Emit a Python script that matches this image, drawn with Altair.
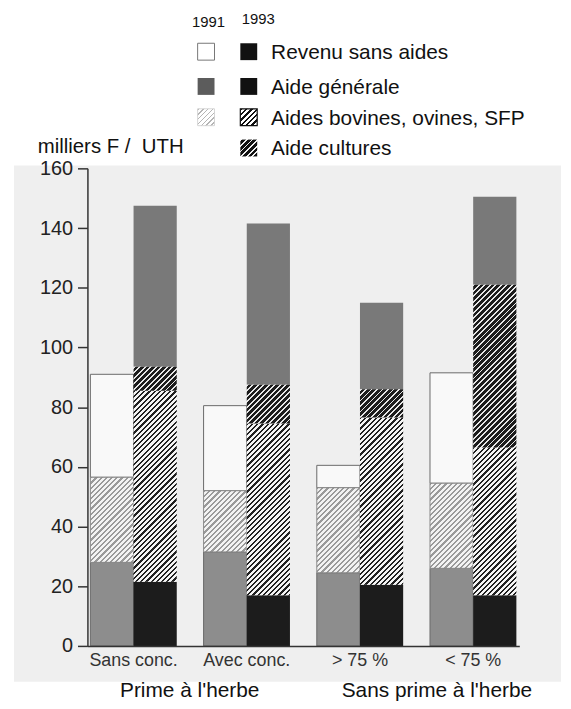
import math
import altair as alt
import pandas as pd

# ---------------- data (milliers F / UTH) ----------------
categories = ["Sans conc.", "Avec conc.", "> 75 %", "< 75 %"]
years = ["1991", "1993"]
components = ["Aide générale", "Aides bovines, ovines, SFP", "Aide cultures", "Revenu sans aides"]

aide_generale_1991 = [28.0, 31.5, 24.5, 26.0]
aides_bovines_1991 = [28.5, 20.5, 28.5, 28.5]
aide_cultures_1991 = [0.0, 0.0, 0.0, 0.0]
revenu_sans_aides_1991 = [34.5, 28.5, 7.5, 37.0]

aide_generale_1993 = [21.5, 17.0, 20.5, 17.0]
aides_bovines_1993 = [64.0, 57.5, 56.0, 49.5]
aide_cultures_1993 = [8.0, 13.0, 9.5, 54.5]
revenu_sans_aides_1993 = [54.0, 54.0, 29.0, 29.5]

group_labels = ["Prime à l'herbe", "Sans prime à l'herbe"]
y_ticks = [0, 20, 40, 60, 80, 100, 120, 140, 160]

# ---------------- layout ----------------
W, H = 435, 481
Y_MAX = 160
PAD_INNER, PAD_OUTER = 0.237, 0.026
FONT = "Liberation Sans"

series = {
    ("1991", components[0]): aide_generale_1991,
    ("1991", components[1]): aides_bovines_1991,
    ("1991", components[2]): aide_cultures_1991,
    ("1991", components[3]): revenu_sans_aides_1991,
    ("1993", components[0]): aide_generale_1993,
    ("1993", components[1]): aides_bovines_1993,
    ("1993", components[2]): aide_cultures_1993,
    ("1993", components[3]): revenu_sans_aides_1993,
}

rows = []
for ci, cat in enumerate(categories):
    for yr in years:
        base = 0.0
        for comp in components:
            v = series[(yr, comp)][ci]
            if v > 0:
                rows.append(dict(category=cat, year=yr, component=comp,
                                 y0=base, y1=base + v, key=yr + "|" + comp))
            base += v
df = pd.DataFrame(rows)
df["id"] = range(len(df))

# pixel geometry needed only to shape the hatching gradients
step = W / (len(categories) - PAD_INNER + 2 * PAD_OUTER)
bar_w = step * (1 - PAD_INNER) / 2
px_per_unit = H / Y_MAX


def hatch(w, h, period, frac, bg, fg):
    """Diagonal '/' stripes as a linear gradient in bounding-box units."""
    L = w + h
    k = L / (w * w + h * h)
    n = L / (period * math.sqrt(2))
    stops = []
    i = 0
    while i / n < 1:
        a = i / n
        b = min((i + frac) / n, 1.0)
        c = min((i + 1) / n, 1.0)
        stops += [(a, fg), (b, fg), (b, bg), (c, bg)]
        i += 1
    return {"gradient": "linear", "x1": 0, "y1": 0,
            "x2": round(w * k, 5), "y2": round(h * k, 5),
            "stops": [{"offset": round(o, 5), "color": col} for o, col in stops]}


HATCH_STYLES = {
    "1991|Aides bovines, ovines, SFP": dict(period=3.7, frac=0.42, bg="#f3f3f3", fg="#9a9a9a"),
    "1993|Aides bovines, ovines, SFP": dict(period=3.7, frac=0.42, bg="#f4f4f4", fg="#202020"),
    "1993|Aide cultures": dict(period=3.9, frac=0.33, bg="#1c1c1c", fg="#e6e6e6"),
}
SOLID_COLORS = {
    "1991|Aide générale": "#8d8d8d",
    "1991|Revenu sans aides": "#f9f9f9",
    "1993|Aide générale": "#1c1c1c",
    "1993|Revenu sans aides": "#797979",
}

x_enc = alt.X("category:N", sort=categories,
              scale=alt.Scale(domain=categories, paddingInner=PAD_INNER, paddingOuter=PAD_OUTER),
              axis=alt.Axis(title=None, labelAngle=0, ticks=False, labelFontSize=18,
                            labelColor="#333333", labelFont=FONT, labelPadding=6,
                            domainColor="#333333", domainWidth=1.5, zindex=1))
xo_enc = alt.XOffset("year:N", scale=alt.Scale(domain=years, paddingInner=0, paddingOuter=0))
y_enc = alt.Y("y0:Q", scale=alt.Scale(domain=[0, Y_MAX], nice=False),
              axis=alt.Axis(title=None, values=y_ticks, grid=False, tickSize=10, tickWidth=1.5,
                            tickColor="#333333", domainColor="#333333", domainWidth=1.5,
                            labelFontSize=20, labelColor="#222222", labelFont=FONT,
                            labelPadding=5, zindex=1))
y2_enc = alt.Y2("y1:Q")

base = alt.Chart(df).encode(x=x_enc, xOffset=xo_enc, y=y_enc, y2=y2_enc)

layers = []

# grey scanned-paper panel behind the plot
panel = alt.Chart(pd.DataFrame({"p": [0]})).mark_rect(color="#efefef").encode(
    x=alt.value(-74), x2=alt.value(477), y=alt.value(-3), y2=alt.value(517))
layers.append(panel)

solid_keys = list(SOLID_COLORS.keys())
solid_1991 = base.transform_filter(
    alt.FieldOneOfPredicate(field="key", oneOf=[k for k in solid_keys if k.startswith("1991")])
).mark_bar(stroke="#6a6a6a", strokeWidth=1).encode(
    fill=alt.Fill("key:N", scale=alt.Scale(domain=solid_keys, range=list(SOLID_COLORS.values())),
                  legend=None))
solid_1993 = base.transform_filter(
    alt.FieldOneOfPredicate(field="key", oneOf=[k for k in solid_keys if k.startswith("1993")])
).mark_bar().encode(
    fill=alt.Fill("key:N", scale=alt.Scale(domain=solid_keys, range=list(SOLID_COLORS.values())),
                  legend=None))
layers += [solid_1991, solid_1993]

for _, r in df.iterrows():
    if r["key"] in HATCH_STYLES:
        st = HATCH_STYLES[r["key"]]
        h = (r["y1"] - r["y0"]) * px_per_unit
        grad = hatch(bar_w, h, st["period"], st["frac"], st["bg"], st["fg"])
        extra = dict(stroke="#8a8a8a", strokeWidth=1) if r["year"] == "1991" else {}
        layers.append(
            base.transform_filter(alt.datum.id == int(r["id"])).mark_bar(fill=grad, **extra)
        )

# ---------------- custom legend ----------------
one = pd.DataFrame({"p": [0]})
SW = 17
row_tops = [-126, -91, -60, -29]
x91, x93, xtxt = 111, 154, 185


def swatch(x, top, fill, stroke=None, sw=1.0):
    kw = {"fill": fill}
    if stroke:
        kw.update(stroke=stroke, strokeWidth=sw)
    return alt.Chart(one).mark_rect(**kw).encode(
        x=alt.value(x), x2=alt.value(x + SW), y=alt.value(top), y2=alt.value(top + SW))


def label(text, x, y, size, align="left", color="#111111"):
    return alt.Chart(one).mark_text(text=text, align=align, baseline="alphabetic",
                                    fontSize=size, font=FONT, color=color).encode(
        x=alt.value(x), y=alt.value(y))


leg = []
leg.append(label(years[0], 122, -142, 15, align="center"))
leg.append(label(years[1], 172, -145, 15, align="center"))
# 1991 column
leg.append(swatch(x91, row_tops[0], "#ffffff", "#777777"))
leg.append(swatch(x91, row_tops[1], "#5c5c5c"))
leg.append(swatch(x91, row_tops[2], hatch(SW, SW, 3.5, 0.35, "#ffffff", "#b5b5b5"), "#cccccc", 0.8))
# 1993 column
leg.append(swatch(x93, row_tops[0], "#111111"))
leg.append(swatch(x93, row_tops[1], "#111111"))
leg.append(swatch(x93, row_tops[2], hatch(SW, SW, 3.8, 0.42, "#ffffff", "#111111"), "#111111", 1.2))
leg.append(swatch(x93, row_tops[3], hatch(SW, SW, 4.0, 0.33, "#111111", "#eeeeee")))
legend_names = ["Revenu sans aides", "Aide générale", "Aides bovines, ovines, SFP", "Aide cultures"]
for name, top in zip(legend_names, row_tops):
    leg.append(label(name, xtxt, top + 16, 21))

# axis unit and group labels
leg.append(label("milliers F /\u00a0 UTH", -50, -15, 20.5))
leg.append(label(group_labels[0], 103, 532, 21, align="center"))
leg.append(label(group_labels[1], 352, 532, 21, align="center"))

chart = alt.layer(*layers, *leg).properties(
    width=W, height=H,
    autosize=alt.AutoSizeParams(type="none"),
    padding={"left": 80, "top": 159, "right": 44, "bottom": 58},
    background="#ffffff",
).configure_view(stroke=None)

chart.save("out.html", embed_options={"renderer": "svg", "actions": False})
